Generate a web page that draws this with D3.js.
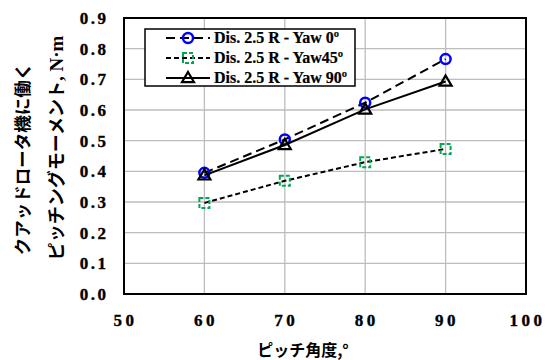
<!DOCTYPE html>
<html>
<head>
<meta charset="utf-8">
<script src="https://cdn.jsdelivr.net/npm/d3@7"></script>
<style>
  html, body { margin: 0; padding: 0; background: #fff; }
  svg { display: block; }
</style>
</head>
<body>
<svg id="chart" width="546" height="360"></svg>
<script>
// Pitch angle (deg) and pitching moment (N·m) for each yaw setting
const pitchAngles = [60, 70, 80, 90];
const yaw0 = [0.395, 0.504, 0.624, 0.766];
const yaw45 = [0.297, 0.369, 0.430, 0.473];
const yaw90 = [0.387, 0.486, 0.602, 0.693];
const seriesNames = ["Dis. 2.5 R - Yaw 0º", "Dis. 2.5 R - Yaw45º", "Dis. 2.5 R - Yaw 90º"];
const xTicks = [50, 60, 70, 80, 90, 100];
const yTicks = [0, 0.1, 0.2, 0.3, 0.4, 0.5, 0.6, 0.7, 0.8, 0.9];

const svg = d3.select("#chart");
const L = 124, R = 526, T = 18, B = 294;

const x = d3.scaleLinear().domain([50, 100]).range([L, R]);
const y = d3.scaleLinear().domain([0, 0.9]).range([B, T]);

const serif = "'Liberation Serif', 'Times New Roman', serif";
const jp = "'Noto Sans CJK JP', 'Noto Sans', sans-serif";

// Grid lines
const grid = svg.append("g");
grid.selectAll("line.gx").data(xTicks.slice(1, -1)).join("line")
  .attr("x1", d => x(d)).attr("x2", d => x(d))
  .attr("y1", T).attr("y2", B)
  .attr("stroke", "#bdbdbd").attr("stroke-width", 1.3);
grid.selectAll("line.gy").data(yTicks.slice(1)).join("line")
  .attr("x1", L).attr("x2", R)
  .attr("y1", d => y(d)).attr("y2", d => y(d))
  .attr("stroke", "#bdbdbd").attr("stroke-width", 1.3);

// Axes (labels only, ticks hidden)
const xAxis = d3.axisBottom(x).tickValues(xTicks).tickSize(0).tickPadding(20).tickFormat(d3.format("d"));
const yAxis = d3.axisLeft(y).tickValues(yTicks).tickSize(0).tickPadding(18).tickFormat(d3.format(".1f"));

const gx = svg.append("g").attr("transform", `translate(0,${B})`).call(xAxis)
  .attr("font-family", null).attr("font-size", null);
gx.select(".domain").remove();
gx.selectAll("text")
  .attr("dx", 1)
  .style("font-family", serif).style("font-weight", "700").style("font-size", "17px")
  .style("letter-spacing", "3.5px").style("fill", "#000")
  .style("stroke", "#000").style("stroke-width", "0.35px");

const gy = svg.append("g").attr("transform", `translate(${L},0)`).call(yAxis)
  .attr("font-family", null).attr("font-size", null);
gy.select(".domain").remove();
gy.selectAll("text")
  .attr("dx", 2.5)
  .style("font-family", serif).style("font-weight", "700").style("font-size", "17px")
  .style("letter-spacing", "2.5px").style("fill", "#000")
  .style("stroke", "#000").style("stroke-width", "0.35px");

// Plot frame
svg.append("rect").attr("x", L).attr("y", T).attr("width", R - L).attr("height", B - T)
  .attr("fill", "none").attr("stroke", "#000").attr("stroke-width", 2);

// Axis titles
svg.append("text").attr("x", 303).attr("y", 356)
  .attr("text-anchor", "middle")
  .style("font-family", jp).style("font-weight", "700").style("font-size", "16px")
  .text("ピッチ角度,°");

svg.append("text")
  .attr("transform", "translate(29,159) rotate(-90)")
  .attr("text-anchor", "middle")
  .style("font-family", jp).style("font-weight", "700").style("font-size", "17.5px")
  .text("クアッドロータ機に働く");
const yTitle2 = svg.append("text")
  .attr("transform", "translate(63,148) rotate(-90)")
  .attr("text-anchor", "middle")
  .style("font-family", jp).style("font-weight", "700").style("font-size", "18px");
yTitle2.append("tspan").text("ピッチングモーメント");
yTitle2.append("tspan").style("font-family", serif).style("font-size", "19px").text(", N·m");

// Series
const series = [
  { name: seriesNames[0], values: yaw0, dash: "9,5", marker: "circle", color: "#0000ff" },
  { name: seriesNames[1], values: yaw45, dash: "5,3", marker: "square", color: "#00a651" },
  { name: seriesNames[2], values: yaw90, dash: null, marker: "triangle", color: "#000" }
];

const line = d3.line().x((d, i) => x(pitchAngles[i])).y(d => y(d));

function drawMarker(g, type, color, cx, cy) {
  if (type === "circle") {
    g.append("circle").attr("cx", cx).attr("cy", cy).attr("r", 5)
      .attr("fill", "none").attr("stroke", color).attr("stroke-width", 2.5);
  } else if (type === "square") {
    g.append("rect").attr("x", cx - 5).attr("y", cy - 5).attr("width", 10).attr("height", 10)
      .attr("fill", "none").attr("stroke", color).attr("stroke-width", 2)
      .attr("stroke-dasharray", "4,2");
  } else {
    const s = 6;
    g.append("path")
      .attr("d", `M${cx},${cy - s}L${cx + s},${cy + s * 0.7}L${cx - s},${cy + s * 0.7}Z`)
      .attr("fill", "none").attr("stroke", color).attr("stroke-width", 2.2);
  }
}

series.forEach(s => {
  svg.append("path").datum(s.values).attr("d", line)
    .attr("fill", "none").attr("stroke", "#000").attr("stroke-width", 2)
    .attr("stroke-dasharray", s.dash);
  const g = svg.append("g");
  s.values.forEach((v, i) => drawMarker(g, s.marker, s.color, x(pitchAngles[i]), y(v)));
});

// Legend
const lg = svg.append("g");
lg.append("rect").attr("x", 145).attr("y", 29).attr("width", 210).attr("height", 57)
  .attr("fill", "#fff").attr("stroke", "#000").attr("stroke-width", 1.5);
series.forEach((s, i) => {
  const cy = 38 + i * 20;
  lg.append("line").attr("x1", 166).attr("x2", 210).attr("y1", cy).attr("y2", cy)
    .attr("stroke", "#000").attr("stroke-width", 2).attr("stroke-dasharray", s.dash);
  drawMarker(lg, s.marker, s.color, 188, cy);
  lg.append("text").attr("x", 214).attr("y", cy + 5)
    .style("font-family", serif).style("font-weight", "700").style("font-size", "16px")
    .style("stroke", "#000").style("stroke-width", "0.2px")
    .text(s.name);
});
</script>
</body>
</html>
